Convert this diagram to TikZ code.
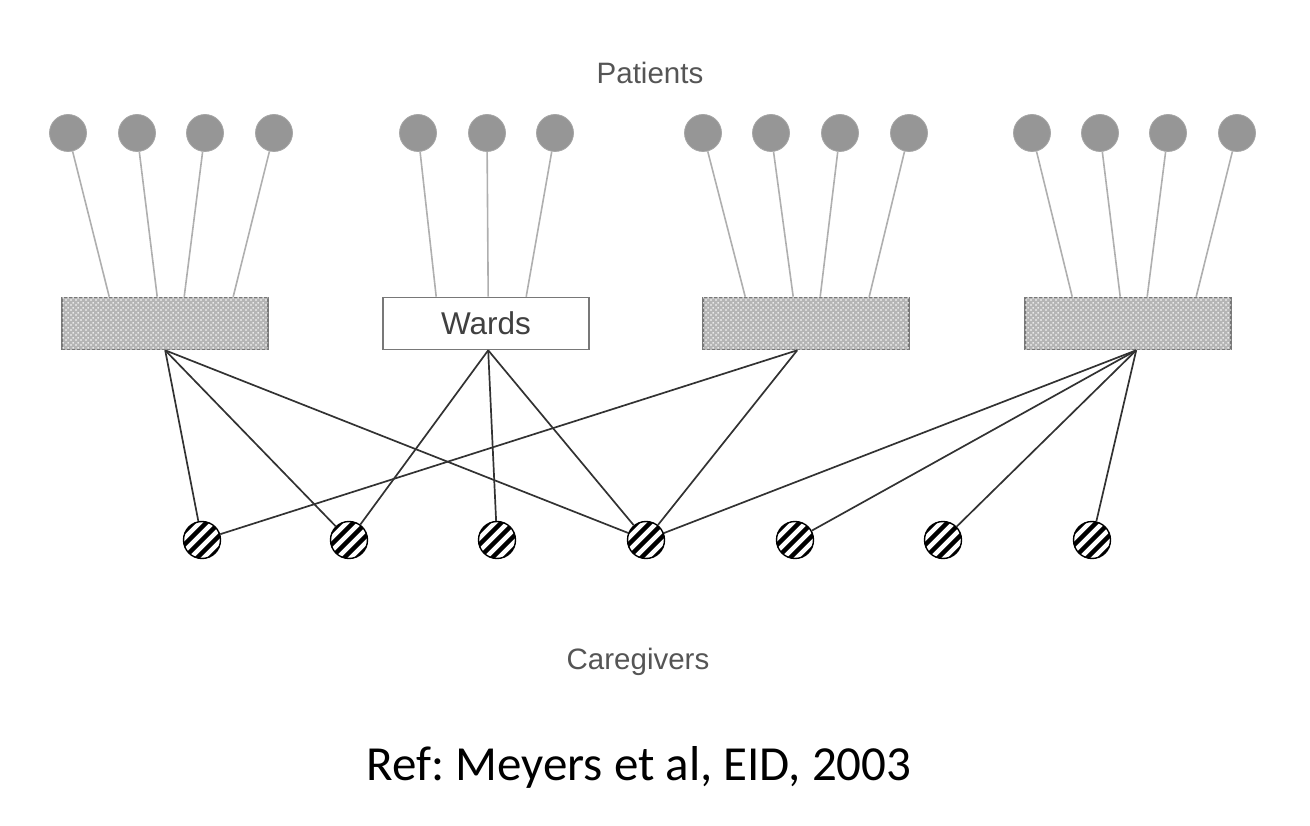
\documentclass[tikz,border=0pt]{standalone}
\usepackage{fontspec}
\setmainfont{Liberation Sans}
\newfontfamily\reffont{Carlito}
\usetikzlibrary{calc,patterns}
\pgfdeclarepatternformonly{speckle}{\pgfpointorigin}{\pgfpoint{5pt}{5pt}}{\pgfpoint{5pt}{5pt}}{
  \pgfpathcircle{\pgfpoint{1.2pt}{1.2pt}}{1.0pt}
  \pgfpathcircle{\pgfpoint{3.7pt}{3.7pt}}{1.0pt}
  \pgfusepath{fill}}
\definecolor{patfill}{RGB}{150,150,150}
\definecolor{patline}{RGB}{175,175,175}
\definecolor{linkline}{RGB}{50,50,50}
\definecolor{labelgray}{RGB}{85,85,85}
\definecolor{boxgray}{RGB}{120,120,120}
\tikzset{
  patient/.style={circle, fill=patfill, draw=patfill!85!white, line width=0.8pt, minimum size=37pt, inner sep=0pt},
  wardbox/.style={rectangle, draw=boxgray, line width=1.6pt, minimum width=206pt, minimum height=52pt, inner sep=0pt},
  stipple/.style={wardbox, fill=gray!58, postaction={pattern=speckle, pattern color=white}},
  carer/.style={circle, draw=black, line width=1.4pt, minimum size=37pt, inner sep=0pt, fill=white,
    path picture={
      \foreach \k in {-4,...,4}{
        \draw[black, line width=4.3pt] ($(path picture bounding box.center)+(\k*13pt-30pt,-30pt)$) -- ++(60pt,60pt);
      }
    }},
  plink/.style={draw=patline, line width=1.6pt},
  clink/.style={draw=linkline, line width=1.7pt},
  grouplabel/.style={text=labelgray, font=\fontsize{29.5}{32}\selectfont, inner sep=0pt}
}
\begin{document}
\frenchspacing
\begin{tikzpicture}[x=1pt,y=-1pt]
\useasboundingbox (0,0) rectangle (1310,826);
% labels
\node[grouplabel] (lp) at (650,73) {Patients};
\node[grouplabel] (lc) at (638,662) {Caregivers};
\node[inner sep=0pt, font=\reffont\fontsize{49}{55}\selectfont] (ref) at (639,767) {Ref: Meyers et al, EID, 2003};
% wards
\node[stipple] (w1) at (165,323.5) {};
\node[wardbox, fill=white, font=\fontsize{31.5}{34}\selectfont, text=black!75] (w2) at (486,323.5) {Wards};
\node[stipple] (w3) at (806,323.5) {};
\node[stipple] (w4) at (1128,323.5) {};
% ward attach points
\foreach \w/\o in {w1/0,w3/-5,w4/0}{
  \coordinate (\w t1) at ($(\w.north west)+(48+\o,0)$);
  \coordinate (\w t2) at ($(\w.north west)+(96+\o,0)$);
  \coordinate (\w t3) at ($(\w.north west)+(123+\o,0)$);
  \coordinate (\w t4) at ($(\w.north west)+(172+\o,0)$);
}
\coordinate (w2t1) at ($(w2.north west)+(54,0)$);
\coordinate (w2t2) at ($(w2.north west)+(106,0)$);
\coordinate (w2t3) at ($(w2.north west)+(144,0)$);
\coordinate (w1b) at ($(w1.south west)+(104,0)$);
\coordinate (w2b) at ($(w2.south west)+(106,0)$);
\coordinate (w3b) at ($(w3.south west)+(95,0)$);
\coordinate (w4b) at ($(w4.south west)+(112,0)$);
% patients
\foreach \i/\x in {1/68,2/137,3/205,4/274,5/418,6/487,7/555,8/703,9/771,10/840,11/909,12/1032,13/1100,14/1168,15/1237}{
  \node[patient] (p\i) at (\x,133) {};
}
% caregivers
\foreach \i/\x in {1/202,2/349,3/497,4/646,5/795,6/943,7/1092}{
  \node[carer] (c\i) at (\x,540) {};
}
% patient links
\foreach \p/\t in {1/w1t1,2/w1t2,3/w1t3,4/w1t4,5/w2t1,6/w2t2,7/w2t3,8/w3t1,9/w3t2,10/w3t3,11/w3t4,12/w4t1,13/w4t2,14/w4t3,15/w4t4}{
  \draw[plink] (p\p) -- (\t);
}
% caregiver links
\foreach \w/\c in {w1b/c1,w1b/c2,w1b/c4,w2b/c2,w2b/c3,w2b/c4,w3b/c1,w3b/c4,w4b/c4,w4b/c5,w4b/c6,w4b/c7}{
  \draw[clink] (\w) -- (\c);
}
\end{tikzpicture}
\end{document}
